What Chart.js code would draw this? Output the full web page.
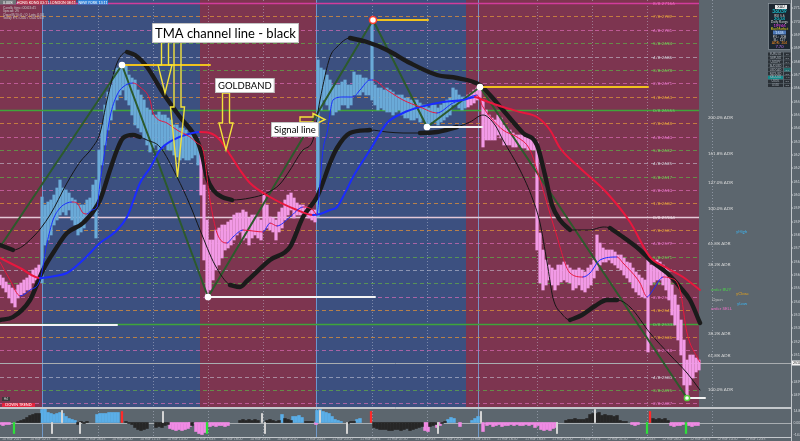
<!DOCTYPE html>
<html>
<head>
<meta charset="utf-8">
<script src="https://cdn.jsdelivr.net/npm/chart.js@4.4.1/dist/chart.umd.min.js"></script>
<style>
  body { margin: 0; background: #5c666e; }
  #wrap { position: relative; width: 800px; height: 441px; overflow: hidden; }
  canvas { position: absolute; left: 0; }
</style>
</head>
<body>
<div id="wrap">
  <canvas id="main" width="800" height="408" style="top:0"></canvas>
  <canvas id="osc" width="800" height="33" style="top:408px"></canvas>
</div>
<script>
// Trading chart - TMA channel, goldband, signal line, zigzag + oscillator

// time axis is in bars (1 bar per pixel column), price in points above the panel low
const zoneEdges = [0, 42, 200, 316, 466, 699];
const zoneTrend = ['down', 'up', 'down', 'up', 'down'];
const sessionLines = [42, 316, 478];
const timeGrid = [98, 153, 208, 263, 372, 427, 537, 592, 647, 712];

// [bar, low, high]
const candles = [
  [0,123,133],[3,120,130],[6,116,126],[9,110,123],[12,105,120],[15,101,118],[18,110,123],[21,113,125],[24,115,128],[27,118,130],[30,118,133],[33,125,138],[36,128,140],[39,130,143],
  [42,125,211],[45,163,203],[48,168,206],[51,173,208],[54,183,213],[57,188,220],[60,193,228],[63,196,220],[66,193,218],[69,198,215],[72,188,210],[75,183,208],[78,173,203],[81,176,203],[84,180,203],[87,190,208],[90,193,210],[93,196,223],[96,170,228],[99,208,258],[102,243,283],[105,263,303],[108,278,316],[111,288,323],[114,298,333],[117,308,340],[120,313,340],[123,318,343],[126,308,343],[129,303,333],[132,293,330],[135,283,328],[138,280,318],[141,276,313],[144,270,308],[147,263,300],[150,256,298],[153,260,293],[156,263,293],[159,258,296],[162,260,293],[165,263,293],[168,258,290],[171,258,288],[174,253,283],[177,251,283],[180,248,280],[183,250,280],[186,248,278],[189,248,275],[192,250,273],[195,253,273],[198,243,268],
  [201,213,258],[204,148,223],[207,111,188],[210,118,168],[213,128,168],[216,138,178],[219,143,180],[222,150,183],[225,158,183],[228,160,186],[231,163,188],[234,168,193],[237,173,195],[240,176,195],[243,168,198],[246,170,196],[249,163,190],[252,170,193],[255,173,193],[258,170,190],[261,168,188],[264,178,215],[267,180,203],[270,178,191],[273,176,190],[276,168,188],[279,176,196],[282,180,200],[285,188,208],[288,193,213],[291,198,215],[294,190,210],[297,193,205],[300,193,203],[303,193,203],[306,192,201],[309,190,200],[312,188,198],[315,186,198],
  [318,191,348],[321,298,340],[324,308,338],[327,303,333],[330,298,328],[333,293,323],[336,296,323],[339,298,323],[342,303,326],[345,303,328],[348,300,323],[351,303,323],[354,313,336],[357,313,333],[360,313,333],[363,316,330],[366,313,330],[369,313,328],[372,308,388],[375,303,323],[378,298,320],[381,300,320],[384,298,318],[387,296,320],[390,296,318],[393,293,316],[396,296,313],[399,298,313],[402,293,313],[405,290,310],[408,290,310],[411,288,308],[414,288,308],[417,290,308],[420,286,305],[423,288,303],[426,283,303],[429,281,300],[432,286,303],[435,286,303],[438,283,300],[441,286,303],[444,288,305],[447,291,308],[450,293,310],[453,303,320],[456,303,318],[459,300,313],[462,298,311],[465,300,311],
  [468,301,313],[471,303,315],[474,305,318],[477,308,320],[480,310,321],[483,261,308],[486,268,298],[489,268,293],[492,268,290],[495,268,288],[498,273,293],[501,270,290],[504,263,283],[507,263,280],[510,263,278],[513,261,275],[516,261,273],[519,263,273],[522,260,273],[525,260,271],[528,258,270],[531,258,270],[534,258,268],[537,158,266],[540,125,175],[543,118,158],[546,123,148],[549,128,143],[552,123,140],[555,118,138],[558,123,143],[561,126,143],[564,128,146],[567,126,143],[570,125,140],[573,118,138],[576,120,138],[579,123,140],[582,118,138],[585,116,136],[588,120,140],[591,123,143],[594,130,148],[597,138,173],[600,143,165],[603,146,160],[606,146,158],[609,148,158],[612,145,158],[615,143,156],[618,140,153],[621,138,153],[624,133,150],[627,130,146],[630,126,145],[633,120,140],[636,116,136],[639,113,133],[642,111,130],[645,110,128],[648,56,148],[651,123,143],[654,126,146],[657,128,148],[660,128,146],[663,123,143],[666,118,140],[669,108,133],[672,93,123],[675,83,113],[678,68,103],[681,53,88],[684,23,68],[687,10,48],[690,23,53],[693,30,53],[696,36,50],[699,38,48]
];

const upperBand = [
  [0,163],[13,158],[33,171],[50,193],[67,225],[80,246],[92,260],[100,275],[107,308],[117,345],[127,356],[135,353],[147,341],[163,315],[180,291],[197,268],[202,253],[207,230],[214,217],[222,211],[232,208],
  [250,210],[267,215],[280,224],[290,238],[303,258],[313,268],[320,308],[330,351],[337,361],[350,370],[367,366],[387,358],[410,345],[437,333],[457,330],[480,323],[490,313],[503,298],[523,275],[537,263],[545,233],[552,203],[560,188],[570,178],
  [590,178],[603,181],[610,180],[623,171],[640,158],[650,148],[667,135],[680,121],[690,108],[700,85]
];
const upperBandBold = [
  [0,163],[13,158],[20,null],
  [127,356],[135,353],[147,341],[163,315],[180,291],[197,268],[202,253],[207,230],[214,217],[222,211],[232,208],[240,null],
  [350,370],[367,366],[387,358],[410,345],[437,333],[457,330],[480,323],[490,313],[503,298],[523,275],[537,263],[545,233],[552,203],[560,188],[570,178],[580,null],
  [610,180],[623,171],[640,158],[650,148],[667,135],[680,121],[690,108],[700,85]
];
const lowerBand = [
  [0,88],[13,91],[30,108],[43,138],[55,158],[67,175],[83,185],[100,208],[110,238],[117,258],[123,270],[133,273],[140,271],[147,268],[160,261],[177,231],[190,203],[200,178],[215,143],[230,123],
  [240,121],[247,127],[270,148],[290,161],[303,191],[317,211],[322,223],[330,245],[337,260],[350,275],[370,278],[387,276],[403,275],[420,275],[437,276],[457,281],[470,286],[483,293],[495,283],
  [503,268],[520,238],[533,208],[540,185],[547,146],[553,110],[562,94],[570,88],[582,93],[595,102],[607,108],[617,108],[630,101],[650,75],[670,53],[687,35],[700,18]
];
const lowerBandBold = [
  [0,88],[13,91],[30,108],[43,138],[55,158],[67,175],[83,185],[100,208],[110,238],[117,258],[123,270],[133,273],[140,271],[145,null],
  [230,123],[240,121],[247,127],[270,148],[290,161],[303,191],[317,211],[322,223],[330,245],[337,260],[350,275],[370,278],[380,null],
  [420,275],[437,276],[457,281],[465,null],
  [570,88],[582,93],[595,102],[607,108],[617,108]
];

// goldband / signal line (slow) and fast line
const slowLine = [
  [0,150],[20,140],[40,130],[55,132],[67,135],[83,148],[100,165],[115,176],[127,191],[140,225],[150,240],[160,258],[173,268],[185,273],[200,276],
  [210,275],[220,268],[227,258],[240,238],[250,225],[270,211],[297,198],[313,193],[320,194],[330,198],[337,201],[345,215],[353,231],[370,258],[387,285],[403,295],[420,301],[443,306],[463,308],[475,311],
  [483,308],[503,301],[520,296],[537,291],[550,278],[560,260],[580,240],[607,215],[630,186],[650,151],[667,140],[683,131],[700,118]
];
const fastLine = [
  [0,146],[10,128],[20,112],[30,118],[40,128],[47,165],[53,188],[60,200],[67,205],[72,206],[77,205],[83,195],[87,194],[92,198],[97,201],[100,225],[105,258],[110,291],[117,313],[123,321],[133,325],
  [140,321],[150,308],[153,295],[167,285],[177,278],[190,271],[197,265],[203,258],[210,208],[217,175],[227,165],[233,171],[243,178],[253,177],[263,176],[270,185],[277,182],[290,191],[303,201],[313,198],[317,193],
  [320,225],[323,258],[327,275],[333,308],[343,311],[353,311],[360,318],[370,328],[373,328],[387,318],[403,308],[420,301],[437,295],[453,305],[463,308],[477,313],
  [483,301],[503,278],[517,271],[530,258],[540,228],[555,178],[570,135],[583,131],[590,135],[600,148],[617,151],[623,145],[640,125],[647,111],[653,118],[663,131],[670,130],[680,118],[687,75],[697,51],[700,46]
];

const zigzag = [[0,161],[122,343],[208,111],[373,388],[427,281],[480,321],[687,10]];
// [from bar, to bar, level]
const resistance = [[122,210,343],[373,428,388],[480,648,321]];
const support = [[0,117,83],[208,375,111],[427,482,281],[687,705,10]];

const levelValues = [405,392,378,365,351,338,325,311,298,285,271,258,245,231,218,205,191,178,165,151,138,125,111,98,84,71,58,45,31,18,5];
const levelKinds = ['top','o','p','g','w','g','p','o','pg','o','p','g','w','g','p','o','pw','o','p','g','w','g','p','o','pg','o','p','cur','w','g','p'];
const levelNames = ['8/8 27166','7/8 2709','6/8 2701','5/8 2694','4/8 2686','3/8 2678','2/8 2671','1/8 2663','0/8 26555','7/8 2648','6/8 2640','5/8 2632','4/8 2625','3/8 2617','2/8 2610','1/8 2602','0/8 25944','7/8 2587','6/8 2579','5/8 2571','4/8 2564','3/8 2556','2/8 2548','1/8 2541','0/8 25333','7/8 2526','6/8 2518','','4/8 2503','3/8 2495','2/8 2487'];

const adrValues = [290,254,225,199,164,143,74,52,18];
const adrNames = ['200.0% ADR','161.8% ADR','127.0% ADR','100.0% ADR','61.8% ADR','38.2% ADR','38.2% ADR','61.8% ADR','100.0% ADR'];

const priceTickValues = [400,386,373,360,346,333,320,306,293,280,266,253,240,226,213,200,186,173,160,146,133,120,106,93,80,66,53,26,13];
const priceTickLabels = ['2714.0','2705.8','2698.3','2690.9','2682.9','2675.4','2668.0','2659.9','2652.5','2645.0','2637.0','2629.5','2622.1','2614.0','2606.6','2599.1','2591.1','2583.6','2576.2','2568.1','2560.7','2553.2','2545.2','2537.7','2530.3','2522.2','2514.8','2499.3','2491.9'];
const lastPrice = 45;
const lastPriceLabel = '2510.2';

const timeTickX = [2,30,57,85,112,140,167,195,222,250,277,305,332,360,387,415,442,470,497,525,552,580,607,635,662,690,717,745];
const timeTickLabels = ['10 Mar 2021','10 Mar 02:15','10 Mar 04:30','10 Mar 06:45','10 Mar 09:00','10 Mar 11:15','10 Mar 13:30','10 Mar 15:45','10 Mar 18:00','10 Mar 20:15','10 Mar 22:30','11 Mar 00:45','11 Mar 03:00','11 Mar 05:15','11 Mar 07:30','11 Mar 09:45','11 Mar 12:00','11 Mar 14:15','11 Mar 16:30','11 Mar 18:45','11 Mar 21:00','11 Mar 23:15','12 Mar 01:30','12 Mar 03:45','12 Mar 06:00','12 Mar 08:15','12 Mar 10:30','12 Mar 12:45'];

// oscillator histogram, [bar, value]
const oscBlack = [[18,1],[21,2],[24,3],[27,5],[30,7],[33,8],[36,9],[39,9],[78,-2],[81,1],[84,-1],[87,1],[126,1],[129,-1],[132,-2],[135,-5],[138,-7],[141,-8],[144,-7],[147,-6],[156,-5],[159,-4],[162,-5],[165,-3],[168,-2],[192,-3],
  [240,2],[243,3],[246,2],[249,3],[252,2],[255,3],[258,2],[267,2],[270,3],[273,2],[276,1],[279,2],[285,4],[288,3],[291,2],[306,1],[309,1],[312,1],[348,-1],[351,1],[354,1],
  [374,-5],[377,-6],[380,-7],[383,-7],[386,-7],[389,-8],[392,-8],[395,-7],[398,-7],[401,-8],[404,-7],[407,-6],[410,-8],[413,-7],[416,-6],[419,-5],[422,-4],[430,-4],[433,-3],[436,-2],[442,-1],[445,1],
  [566,2],[569,3],[572,3],[575,4],[578,3],[581,3],[584,3],[587,4],[590,8],[593,9],[596,9],[599,10],[602,7],[605,8],[608,7],[611,7],[614,6],[617,7],[620,2],[623,1],[626,1],[653,4],[656,3],[659,4],[662,3],[665,4],[668,2]];
const oscBlue = [[42,13],[45,14],[48,10],[51,9],[54,8],[57,9],[60,10],[63,9],[66,6],[69,4],[72,3],[75,2],[97,8],[100,9],[103,9],[106,9],[109,10],[112,10],[115,10],[118,10],
  [282,8],[293,6],[296,6],[299,7],[302,5],[317,12],[320,13],[323,11],[326,10],[329,9],[332,6],[335,3],[338,2],[341,1],[357,3],[360,4],[448,3],[451,5],[454,4],[472,2],[475,4],[478,6]];
const oscPink = [[0,-2],[3,-3],[6,-2],[9,-2],[170,-6],[173,-7],[176,-8],[179,-7],[182,-8],[185,-7],[188,-6],[190,-4],[196,-9],[199,-11],[202,-12],[205,-10],[210,-4],[213,-3],[216,-4],[219,-3],[222,-3],[225,-4],[228,-3],
  [316,-2],[425,-8],[428,-9],[437,-5],[440,-3],[460,-4],[483,-9],[487,-3],[490,-2],[493,-4],[496,-3],[499,-2],[502,-4],[505,-3],[508,-3],[511,-2],[514,-3],[517,-2],[520,-3],[523,-3],[526,-2],[529,-3],[532,-2],[535,-5],[538,-3],
  [541,-7],[544,-8],[547,-7],[550,-8],[553,-6],[556,-5],[632,-2],[635,-3],[638,-2],[671,-3],[674,-4],[677,-3],[680,-3],[683,-2],[689,-3],[692,-4],[695,-3],[698,-3]];
const oscSpike = [[52,-11],[62,12],[80,-11],[163,11],[262,9],[265,-11],[320,12],[347,-11],[438,-11],[481,11],[557,-11],[595,13]];
const oscGreen = [[14,-11],[207,-11],[647,-11],[686,-11]];
const oscRed = [[122,11],[371,11],[650,11]];
const oscTickValues = [12, 0, -12];
const oscTickLabels = ['14.82', '0.00', '-14.82'];

const ZONE_UP = '#3c5080';
const ZONE_DN = '#7d3550';
const PANEL_GRAY = '#5c666e';
const CANDLE_UP = '#6aaad8';
const CANDLE_DN = '#f29ae6';
const LINE_UP = '#1a2cff';
const LINE_DN = '#e8173e';
const FONT = 'Lato, "Liberation Sans", sans-serif';

const pts = arr => arr.map(p => ({ x: p[0], y: p[1] }));

function zoneAt(bar) {
  for (let i = 0; i < zoneTrend.length; i++) {
    if (bar >= zoneEdges[i] && bar < zoneEdges[i + 1]) return zoneTrend[i];
  }
  return 'down';
}

const slopeColor = s => (s.p1.parsed.y >= s.p0.parsed.y ? LINE_UP : LINE_DN);

const levelStyle = {
  top: { c: '#d23c9c', w: 1.5, dash: [], t: '#f070c0' },
  o: { c: 'rgba(214,140,60,0.8)', w: 1, dash: [4, 3], t: '#e0a040' },
  p: { c: 'rgba(226,110,186,0.65)', w: 1, dash: [4, 3], t: '#e878cc' },
  g: { c: 'rgba(96,168,72,0.75)', w: 1, dash: [4, 3], t: '#7cd05a' },
  w: { c: 'rgba(205,205,220,0.55)', w: 1, dash: [4, 3], t: '#d0d0d8' },
  pg: { c: '#3fa53a', w: 1.6, dash: [], t: '#74d06c' },
  pw: { c: '#e4c8d6', w: 1.6, dash: [], t: '#f0e0e8' },
  cur: { c: '#a9adb0', w: 1, dash: [], t: '#ffffff' }
};

function drawArrowDown(ctx, cx, top, headTop, tip) {
  ctx.beginPath();
  ctx.moveTo(cx - 3.5, top);
  ctx.lineTo(cx + 3.5, top);
  ctx.lineTo(cx + 3.5, headTop);
  ctx.lineTo(cx + 7, headTop);
  ctx.lineTo(cx, tip);
  ctx.lineTo(cx - 7, headTop);
  ctx.lineTo(cx - 3.5, headTop);
  ctx.closePath();
  ctx.stroke();
}

function drawArrowRight(ctx, cy, left, headLeft, tip) {
  ctx.beginPath();
  ctx.moveTo(left, cy - 2.5);
  ctx.lineTo(headLeft, cy - 2.5);
  ctx.lineTo(headLeft, cy - 6);
  ctx.lineTo(tip, cy);
  ctx.lineTo(headLeft, cy + 6);
  ctx.lineTo(headLeft, cy + 2.5);
  ctx.lineTo(left, cy + 2.5);
  ctx.closePath();
  ctx.stroke();
}

function noteBox(ctx, px, py, text, size, h) {
  ctx.font = size + 'px ' + FONT;
  const w = ctx.measureText(text).width + 6;
  ctx.fillStyle = '#ffffff';
  ctx.fillRect(px, py, w, h);
  ctx.strokeStyle = '#9a9a9a';
  ctx.lineWidth = 0.6;
  ctx.strokeRect(px + 0.5, py + 0.5, w - 1, h - 1);
  ctx.fillStyle = '#000000';
  ctx.textBaseline = 'middle';
  ctx.textAlign = 'left';
  ctx.fillText(text, px + 3, py + h / 2 + 0.5);
}

function tinyText(ctx, text, px, py, color, size, align) {
  ctx.font = (size || 4.5) + 'px ' + FONT;
  ctx.fillStyle = color;
  ctx.textAlign = align || 'left';
  ctx.textBaseline = 'middle';
  ctx.fillText(text, px, py);
}

function drawVerticals(ctx, x, top, bot) {
  ctx.lineWidth = 1;
  ctx.setLineDash([1, 2]);
  ctx.strokeStyle = 'rgba(200,205,222,0.45)';
  timeGrid.forEach(t => {
    const px = Math.round(x.getPixelForValue(t)) + 0.5;
    ctx.beginPath(); ctx.moveTo(px, top); ctx.lineTo(px, bot); ctx.stroke();
  });
  ctx.setLineDash([]);
  ctx.strokeStyle = 'rgba(120,172,232,0.75)';
  sessionLines.forEach(t => {
    const px = Math.round(x.getPixelForValue(t)) + 0.5;
    ctx.beginPath(); ctx.moveTo(px, top); ctx.lineTo(px, bot); ctx.stroke();
  });
}

const mainDecor = {
  id: 'mainDecor',
  beforeDatasetsDraw(chart) {
    const { ctx, scales: { x, y } } = chart;
    const top = y.getPixelForValue(y.max), bot = y.getPixelForValue(y.min);
    ctx.save();
    ctx.fillStyle = PANEL_GRAY;
    ctx.fillRect(0, 0, chart.width, chart.height);
    zoneTrend.forEach((t, i) => {
      const a = x.getPixelForValue(zoneEdges[i]), b = x.getPixelForValue(zoneEdges[i + 1]);
      ctx.fillStyle = t === 'up' ? ZONE_UP : ZONE_DN;
      ctx.fillRect(a, top, b - a, bot - top);
    });
    drawVerticals(ctx, x, top, bot);

    const zoneRight = x.getPixelForValue(zoneEdges[zoneEdges.length - 1]);
    const axisX = x.getPixelForValue(791);
    levelValues.forEach((v, i) => {
      const st = levelStyle[levelKinds[i]];
      const py = Math.round(y.getPixelForValue(v)) + 0.5;
      ctx.strokeStyle = st.c;
      ctx.lineWidth = st.w;
      ctx.setLineDash(st.dash);
      ctx.beginPath();
      ctx.moveTo(0, py);
      ctx.lineTo(levelKinds[i] === 'cur' ? axisX : zoneRight, py);
      ctx.stroke();
      if (levelNames[i]) tinyText(ctx, levelNames[i], x.getPixelForValue(653), py, st.t, 4.6);
    });
    ctx.setLineDash([]);
    ctx.restore();
  },
  afterDatasetsDraw(chart) {
    const { ctx, scales: { x, y } } = chart;
    const X = v => x.getPixelForValue(v), Y = v => y.getPixelForValue(v);
    ctx.save();

    // annotations
    ctx.strokeStyle = '#f2e23a';
    ctx.lineWidth = 1.4;
    drawArrowDown(ctx, X(165), Y(370), Y(343), Y(315));
    drawArrowDown(ctx, X(177.5), Y(368), Y(301), Y(231));
    drawArrowDown(ctx, X(226), Y(315), Y(285), Y(258));
    drawArrowRight(ctx, Y(288.5), X(300), X(313), X(325));
    noteBox(ctx, X(152), Y(385), 'TMA channel line - black', 13, 20);
    noteBox(ctx, X(215), Y(330), 'GOLDBAND', 9.5, 15);
    noteBox(ctx, X(271), Y(286), 'Signal line', 9.5, 15);

    // session header and account text
    const sessions = [['0.00%', 0, 16, '#707478'], ['HONG KONG 03:11', 18, 48, '#b8344a'], ['LONDON 08:11', 50, 76, '#b8344a'], ['NEW YORK 13:11', 78, 108, '#2f80d8']];
    sessions.forEach(s => {
      ctx.fillStyle = s[3];
      ctx.fillRect(X(s[1]), 0, X(s[2]) - X(s[1]), 4.5);
      tinyText(ctx, s[0], (X(s[1]) + X(s[2])) / 2, 2.4, '#ffffff', 3.6, 'center');
    });
    ['Candle time: 00:03:41', 'Spread: 25', 'Open(B/S): 0 / 0  Lots: 0.00', 'Today P/L: 0.00 / 0.00 USD'].forEach((t, i) => {
      tinyText(ctx, t, 3, 8 + i * 3.4, '#c6c6c6', 3.4);
    });

    // ADR and day markers in the margin
    adrValues.forEach((v, i) => tinyText(ctx, adrNames[i], X(708), Y(v), '#dcdcdc', 4.4));
    tinyText(ctx, 'yHigh', X(736), Y(176), '#3db4f0', 4.4);
    tinyText(ctx, 'order BUY', X(711), Y(118), '#4ccf4c', 4.4);
    tinyText(ctx, 'yClose', X(736), Y(114), '#e0a020', 4.4);
    tinyText(ctx, 'Open', X(712), Y(108), '#c0c0c0', 4.4);
    tinyText(ctx, 'yLow', X(737), Y(104), '#3db4f0', 4.4);
    tinyText(ctx, 'order SELL', X(711), Y(99), '#f070c8', 4.4);

    // trend badge
    ctx.fillStyle = '#3a3a3a';
    ctx.fillRect(2, Y(11), 8, 4);
    tinyText(ctx, 'H4', 6, Y(9), '#cfcfcf', 3.2, 'center');
    ctx.fillStyle = '#e2243e';
    ctx.fillRect(2, Y(5), 33, 4.2);
    tinyText(ctx, 'DOWN TREND', 18.5, Y(3), '#ffffff', 3.8, 'center');

    // info panel
    ctx.fillStyle = '#1c2630';
    ctx.fillRect(768, 3, 23, 47);
    ctx.strokeStyle = '#8a949c';
    ctx.lineWidth = 0.8;
    ctx.strokeRect(768.5, 3.5, 22, 46);
    ctx.fillStyle = '#e8e8e8';
    ctx.fillRect(775, 5, 12, 4);
    tinyText(ctx, 'XAU', 781, 7, '#1c2630', 3.6, 'center');
    tinyText(ctx, '36039', 779.5, 11.5, '#18e0f0', 5, 'center');
    tinyText(ctx, 'RSI 5.6', 779.5, 15.5, '#d0d0d0', 3.4, 'center');
    tinyText(ctx, '20:34', 779.5, 19, '#18e0f0', 4.4, 'center');
    tinyText(ctx, 'Daily Range', 779.5, 22.3, '#d0d0d0', 3.4, 'center');
    tinyText(ctx, '19946', 779.5, 25.5, '#f040f0', 4.2, 'center');
    tinyText(ctx, 'BuyMarket', 779.5, 29, '#e0d020', 3.6, 'center');
    ctx.fillStyle = '#4c78b8';
    ctx.fillRect(773, 30.5, 13, 4);
    tinyText(ctx, '1535', 779.5, 32.5, '#d8ecff', 3.6, 'center');
    tinyText(ctx, 'P/L:  208', 779.5, 36.5, '#d0d0d0', 3.4, 'center');
    tinyText(ctx, 'SL:  127', 779.5, 39.8, '#d0d0d0', 3.4, 'center');
    tinyText(ctx, 'ADR:  304', 779.5, 43, '#f08a20', 3.4, 'center');
    tinyText(ctx, '7.70', 779.5, 47, '#c070f0', 4, 'center');
    for (let i = 0; i < 9; i++) {
      const ry = 52.5 + i * 3.9;
      ctx.fillStyle = i === 6 ? '#138c8c' : '#2a3036';
      ctx.fillRect(768, ry, 15, 3.3);
      ctx.fillStyle = i === 4 ? '#1c6c6c' : '#2a3036';
      ctx.fillRect(784, ry, 6.5, 3.3);
      tinyText(ctx, ['EURUSD','GBPUSD','USDJPY','AUDUSD','USDCAD','NZDUSD','XAUUSD','USOIL','US30'][i], 775.5, ry + 1.7, '#a8b0b8', 2.8, 'center');
      tinyText(ctx, ['-0.1','0.3','0.1','0.4','0.2','0.0','-1.2','0.5','0.8'][i], 787.3, ry + 1.7, '#a8b0b8', 2.6, 'center');
    }

    // price axis
    const axisX = Math.round(X(791)) + 0.5;
    ctx.strokeStyle = '#c4c8cc';
    ctx.lineWidth = 1;
    ctx.beginPath(); ctx.moveTo(axisX, 0); ctx.lineTo(axisX, chart.height); ctx.stroke();
    ctx.beginPath(); ctx.moveTo(0, chart.height - 0.5); ctx.lineTo(axisX, chart.height - 0.5); ctx.stroke();
    priceTickValues.forEach((v, i) => {
      const py = Y(v);
      ctx.beginPath(); ctx.moveTo(axisX, py); ctx.lineTo(axisX + 1.5, py); ctx.stroke();
      tinyText(ctx, priceTickLabels[i], axisX + 2, py, '#d4d8dc', 3.6);
    });
    ctx.fillStyle = '#f4f4f4';
    ctx.fillRect(axisX + 0.5, Y(lastPrice) - 2.5, 9, 5);
    tinyText(ctx, lastPriceLabel, axisX + 1.5, Y(lastPrice), '#202020', 3.4);
    ctx.restore();
  }
};

const lineSet = (data, color, width, order, extra) => Object.assign({
  type: 'line', data: pts(data), borderColor: color, borderWidth: width,
  pointRadius: 0, pointHoverRadius: 0, fill: false, spanGaps: false, order: order,
  cubicInterpolationMode: 'monotone', borderCapStyle: 'round', borderJoinStyle: 'round'
}, extra || {});

const levelSets = [];
resistance.forEach(r => levelSets.push(lineSet([[r[0], r[2]], [r[1], r[2]]], '#f0c21e', 2, 2)));
support.forEach(s => levelSets.push(lineSet([[s[0], s[2]], [s[1], s[2]]], '#f4f4f4', 2, 2)));

const pivotLow = Math.min(...zigzag.map(p => p[1]));
const pivotHigh = Math.max(...zigzag.map(p => p[1]));

new Chart(document.getElementById('main'), {
  type: 'line',
  data: {
    datasets: [
      {
        type: 'bar',
        data: candles.map(c => ({ x: c[0], y: [c[1], c[2]] })),
        backgroundColor: ctx => (ctx.raw && zoneAt(ctx.raw.x) === 'up' ? CANDLE_UP : CANDLE_DN),
        borderWidth: 0,
        barThickness: 2.5,
        grouped: false,
        order: 9
      },
      lineSet(zigzag, '#2c5a2c', 2, 8, { cubicInterpolationMode: 'default', tension: 0 }),
      lineSet(upperBand, '#161616', 1, 7),
      lineSet(lowerBand, '#161616', 1, 7),
      lineSet(upperBandBold, '#1b1b1b', 4.4, 6),
      lineSet(lowerBandBold, '#1b1b1b', 4.4, 6),
      lineSet(slowLine, LINE_UP, 2, 5, { segment: { borderColor: slopeColor } }),
      lineSet(fastLine, LINE_UP, 1, 4, { segment: { borderColor: slopeColor } }),
      ...levelSets,
      {
        type: 'line',
        data: pts(zigzag.slice(1)),
        showLine: false,
        pointRadius: ctx => (ctx.raw && ctx.raw.y === pivotHigh ? 3.5 : 2.6),
        pointHoverRadius: 0,
        pointBackgroundColor: '#ffffff',
        pointBorderColor: ctx => (ctx.raw && ctx.raw.y === pivotHigh ? '#ff3b2a' : ctx.raw && ctx.raw.y === pivotLow ? '#58d040' : '#ffffff'),
        pointBorderWidth: 1.5,
        order: 1
      }
    ]
  },
  options: {
    responsive: false,
    animation: false,
    devicePixelRatio: 1,
    events: [],
    layout: { padding: 0, autoPadding: false },
    plugins: { legend: { display: false }, tooltip: { enabled: false } },
    scales: {
      x: { type: 'linear', min: 0, max: 800, offset: false, display: false },
      y: { type: 'linear', min: 0, max: 408, display: false }
    }
  },
  plugins: [mainDecor]
});

// oscillator panel
const oscDecor = {
  id: 'oscDecor',
  beforeDatasetsDraw(chart) {
    const { ctx, chartArea, scales: { x, y } } = chart;
    ctx.save();
    ctx.fillStyle = PANEL_GRAY;
    ctx.fillRect(0, 0, chart.width, chart.height);
    drawVerticals(ctx, x, chartArea.top, chartArea.bottom);
    const zy = Math.round(y.getPixelForValue(0)) + 0.5;
    ctx.strokeStyle = '#a9aeb2';
    ctx.lineWidth = 1;
    ctx.beginPath(); ctx.moveTo(0, zy); ctx.lineTo(x.getPixelForValue(791), zy); ctx.stroke();
    ctx.restore();
  },
  afterDatasetsDraw(chart) {
    const { ctx, chartArea, scales: { x, y } } = chart;
    const axisX = Math.round(x.getPixelForValue(791)) + 0.5;
    ctx.save();
    ctx.strokeStyle = '#c4c8cc';
    ctx.lineWidth = 1;
    ctx.beginPath();
    ctx.moveTo(0, chartArea.top + 0.5); ctx.lineTo(axisX, chartArea.top + 0.5);
    ctx.moveTo(0, chartArea.bottom + 0.5); ctx.lineTo(axisX, chartArea.bottom + 0.5);
    ctx.moveTo(axisX, 0); ctx.lineTo(axisX, chart.height);
    ctx.stroke();
    oscTickValues.forEach((v, i) => tinyText(ctx, oscTickLabels[i], axisX + 2, y.getPixelForValue(v), '#d4d8dc', 3.4));
    timeTickX.forEach((t, i) => tinyText(ctx, timeTickLabels[i], x.getPixelForValue(t), chartArea.bottom + 2.4, '#b8bcc0', 3.4));
    ctx.restore();
  }
};

const oscSet = (data, color, thick) => ({
  data: pts(data), backgroundColor: color, borderWidth: 0,
  barThickness: thick, grouped: false
});

new Chart(document.getElementById('osc'), {
  type: 'bar',
  data: {
    datasets: [
      oscSet(oscGreen, '#2ee03a', 1.6),
      oscSet(oscRed, '#ff2a2a', 1.6),
      oscSet(oscSpike, '#d4d4d4', 1.4),
      oscSet(oscBlack, '#262626', 2.8),
      oscSet(oscBlue, '#5aaee8', 2.8),
      oscSet(oscPink, '#f08ae4', 2.8)
    ]
  },
  options: {
    responsive: false,
    animation: false,
    devicePixelRatio: 1,
    events: [],
    layout: { padding: { bottom: 4 }, autoPadding: false },
    plugins: { legend: { display: false }, tooltip: { enabled: false } },
    scales: {
      x: { type: 'linear', min: 0, max: 800, offset: false, display: false },
      y: { type: 'linear', min: -14.5, max: 14.5, display: false }
    }
  },
  plugins: [oscDecor]
});
</script>
</body>
</html>
